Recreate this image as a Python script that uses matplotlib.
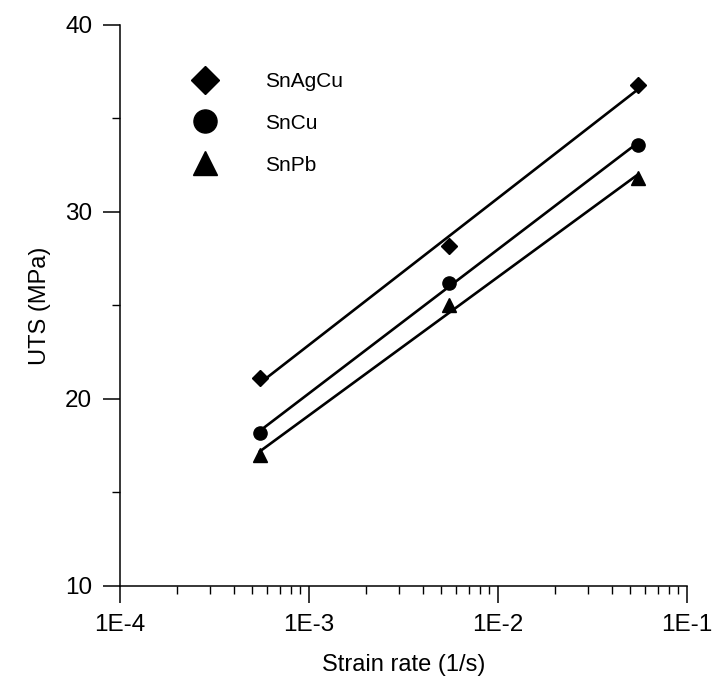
import numpy as np
import matplotlib.pyplot as plt
from matplotlib.ticker import FixedLocator, FuncFormatter, MultipleLocator

plt.rcParams['font.family'] = ['Liberation Sans', 'DejaVu Sans']

# Data
strain_rate = [5.5e-4, 5.5e-3, 5.5e-2]
uts_snagcu = [21.1, 28.2, 36.8]
uts_sncu = [18.2, 26.2, 33.6]
uts_snpb = [17.0, 25.0, 31.8]

series = [
    ("SnAgCu", uts_snagcu, "D", 8),
    ("SnCu", uts_sncu, "o", 9.5),
    ("SnPb", uts_snpb, "^", 9.5),
]

fig = plt.figure(figsize=(7.17, 6.86), dpi=100)
ax = fig.add_axes([0.1674, 0.1458, 0.7906, 0.8178])

x = np.array(strain_rate)
lx = np.log10(x)
handles = []
for name, y, m, ms in series:
    # fitted straight line on the semi-log plot
    k, b = np.polyfit(lx, y, 1)
    ax.plot(x, k * lx + b, color='black', lw=1.9, zorder=2)
    h, = ax.plot(x, y, linestyle='none', marker=m, ms=ms, color='black',
                 label=name, zorder=3)
    handles.append(h)

ax.set_xscale('log')
ax.set_xlim(1e-4, 1e-1)
ax.set_ylim(10, 40)

ax.xaxis.set_major_locator(FixedLocator([1e-4, 1e-3, 1e-2, 1e-1]))
ax.xaxis.set_major_formatter(FuncFormatter(lambda v, p: "1E%d" % round(np.log10(v))))
ax.yaxis.set_major_locator(MultipleLocator(10))
ax.yaxis.set_minor_locator(MultipleLocator(5))

for s in ['top', 'right']:
    ax.spines[s].set_visible(False)
for s in ['left', 'bottom']:
    ax.spines[s].set_linewidth(1.1)

ax.tick_params(which='major', direction='out', length=12, width=1.1,
               labelsize=17.5, pad=8)
ax.tick_params(which='minor', direction='out', length=6, width=1.0)

ax.set_xlabel('Strain rate (1/s)', fontsize=17, labelpad=13)
ax.set_ylabel('UTS (MPa)', fontsize=17, labelpad=10)

ax.legend(handles=handles, loc='upper left', bbox_to_anchor=(0.111, 0.935),
          frameon=False, fontsize=15, markerscale=1.75, labelspacing=1.1,
          handletextpad=2.35, handlelength=1.1, borderpad=0)

fig.savefig('out.png', dpi=100)
